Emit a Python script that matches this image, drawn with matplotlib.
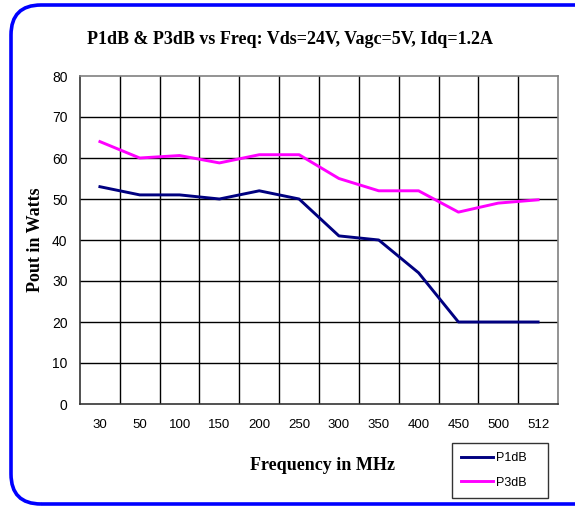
import numpy as np
import matplotlib
matplotlib.use("Agg")
import matplotlib.pyplot as plt
from matplotlib.patches import FancyBboxPatch
from matplotlib.transforms import IdentityTransform

# 数据
freqs = ["30", "50", "100", "150", "200", "250", "300", "350", "400", "450", "500", "512"]
p1db = [53, 51, 51, 50, 52, 50, 41, 40, 32, 20, 20, 20]
p3db = [64, 60, 60.6, 58.8, 60.8, 60.8, 55, 52, 52, 46.8, 49, 49.8]

serif = ["Liberation Serif", "DejaVu Serif"]
sans = ["Liberation Sans", "DejaVu Sans"]

W, H = 575, 508
fig = plt.figure(figsize=(W / 100, H / 100), dpi=100)

# 外框（蓝色圆角，像素坐标）
frame = FancyBboxPatch((11, H - 504), 620, 499,
                       boxstyle="round,pad=0,rounding_size=30",
                       transform=IdentityTransform(), fill=False,
                       edgecolor="#0000ff", linewidth=2.6, clip_on=False)
fig.patches.append(frame)

ax = fig.add_axes([80 / W, 1 - 404 / H, 478 / W, 328 / H])
x = np.arange(len(freqs))

ax.plot(x, p1db, color="#000080", linewidth=2.1, label="P1dB", solid_joinstyle="round")
ax.plot(x, p3db, color="#ff00ff", linewidth=2.1, label="P3dB", solid_joinstyle="round")

# 坐标轴
ax.set_xlim(-0.5, len(freqs) - 0.5)
ax.set_ylim(0, 80)
ax.set_yticks(np.arange(0, 81, 10))
ax.set_xticks(x)
ax.set_xticklabels(freqs, fontfamily=sans, fontsize=9.5)
for lab in ax.get_yticklabels():
    lab.set_fontfamily(sans)
    lab.set_fontsize(10)
ax.tick_params(axis="both", length=0)
ax.tick_params(axis="x", pad=11)
ax.tick_params(axis="y", pad=9)

# 网格：竖线在类别边界
for xb in np.arange(0.5, len(freqs) - 0.5, 1):
    ax.axvline(xb, color="black", linewidth=1.0, zorder=0)
for yb in np.arange(10, 80, 10):
    ax.axhline(yb, color="black", linewidth=1.0, zorder=0)

ax.spines["top"].set_color("#808080")
ax.spines["right"].set_color("#808080")
ax.spines["left"].set_color("#333333")
ax.spines["bottom"].set_color("#333333")
for s in ax.spines.values():
    s.set_linewidth(1.2)

fig.text(290 / W, 1 - 40 / H, "P1dB & P3dB vs Freq: Vds=24V, Vagc=5V, Idq=1.2A",
         fontfamily=serif, fontweight="bold", fontsize=13, ha="center", va="center")
ax.set_xlabel("Frequency in MHz", fontfamily=serif, fontweight="bold", fontsize=13)
ax.xaxis.set_label_coords((323 - 80) / 478, -(466 - 404) / 328)
ax.xaxis.label.set_va("center")
ax.set_ylabel("Pout in Watts", fontfamily=serif, fontweight="bold", fontsize=13)
ax.yaxis.set_label_coords((35 - 80) / 478, 0.5)
ax.yaxis.label.set_va("center")

leg = ax.legend(loc="lower left", bbox_to_anchor=(452 / W, 10 / H, 96 / W, 53 / H),
                bbox_transform=fig.transFigure, mode="expand", alignment="center",
                prop={"family": sans, "size": 9}, frameon=True, fancybox=False,
                edgecolor="black", handlelength=2.5, handletextpad=0.3,
                borderaxespad=0, labelspacing=1.0, borderpad=0.75)
leg.get_frame().set_linewidth(1.0)

fig.savefig("out.png", dpi=100)
